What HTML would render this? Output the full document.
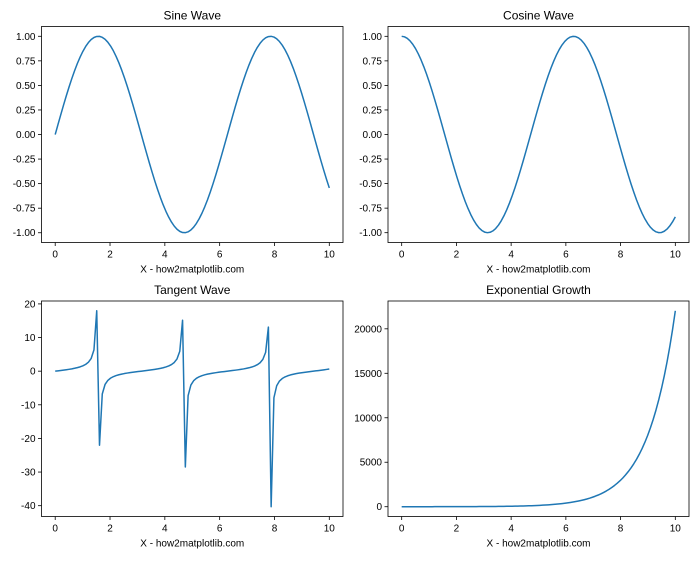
<!DOCTYPE html>
<html><head><meta charset="utf-8"><style>
html,body{margin:0;padding:0;background:#fff}
svg text{font-family:"Liberation Sans",sans-serif;fill:#000}
</style></head><body>
<svg id="s" width="700" height="560" xmlns="http://www.w3.org/2000/svg"></svg>
<script>
const s=document.getElementById('s');
let out='';
const N=100,xs=[];for(let i=0;i<N;i++)xs.push(10*i/(N-1));
function panel(L,T,R,B,f,title,yt,fmt){
  const ys=xs.map(f);
  let mn=Math.min(...ys),mx=Math.max(...ys),p=(mx-mn)*0.05;mn-=p;mx+=p;
  const X=x=>L+(x+0.5)/11*(R-L), Y=y=>B-(y-mn)/(mx-mn)*(B-T);
  out+=`<polyline fill="none" stroke="#1f77b4" stroke-width="1.5" stroke-linejoin="round" points="${xs.map((x,i)=>X(x).toFixed(2)+','+Y(ys[i]).toFixed(2)).join(' ')}"/>`;
  out+=`<rect x="${L}" y="${T}" width="${R-L}" height="${B-T}" fill="none" stroke="#000" stroke-width="0.8"/>`;
  for(const t of [0,2,4,6,8,10]){const x=X(t);out+=`<line x1="${x}" y1="${B}" x2="${x}" y2="${B+3.5}" stroke="#000" stroke-width="0.8"/><text x="${x}" y="${B+15}" font-size="10" text-anchor="middle">${t}</text>`;}
  for(const t of yt){const y=Y(t);out+=`<line x1="${L-3.5}" y1="${y}" x2="${L}" y2="${y}" stroke="#000" stroke-width="0.8"/><text x="${L-6}" y="${y+3.5}" font-size="10" text-anchor="end">${fmt(t)}</text>`;}
  out+=`<text x="${(L+R)/2}" y="${T-7}" font-size="12" text-anchor="middle">${title}</text>`;
  out+=`<text x="${(L+R)/2}" y="${B+30}" font-size="10" text-anchor="middle">X - how2matplotlib.com</text>`;
}
const f2=t=>t.toFixed(2),fi=t=>String(t);
const tr=[1,0.75,0.5,0.25,0,-0.25,-0.5,-0.75,-1];
panel(41.5,26.5,343,242.5,Math.sin,'Sine Wave',tr,f2);
panel(388,26.5,689,242.5,Math.cos,'Cosine Wave',tr,f2);
panel(41.5,301,343,516.5,Math.tan,'Tangent Wave',[20,10,0,-10,-20,-30,-40],fi);
panel(388,301,689,516.5,Math.exp,'Exponential Growth',[0,5000,10000,15000,20000],fi);
s.innerHTML=out;
</script>
</body></html>
